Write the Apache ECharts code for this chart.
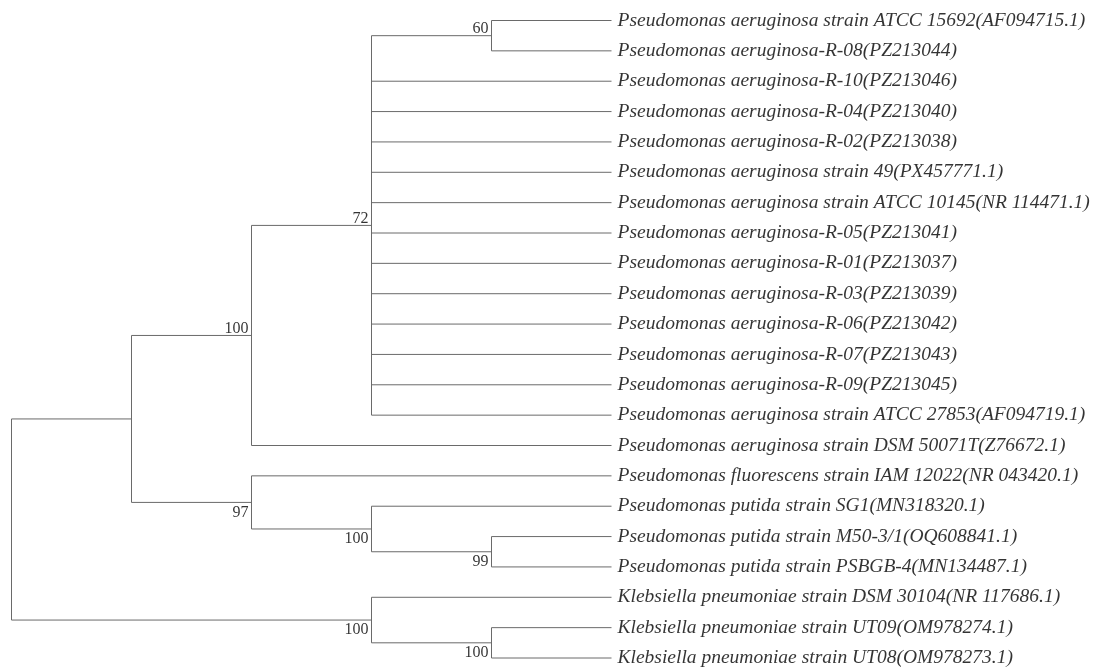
<!DOCTYPE html>
<html>
<head>
<meta charset="utf-8">
<script src="https://cdn.jsdelivr.net/npm/echarts@6/dist/echarts.min.js"></script>
<style>
html,body{margin:0;padding:0;background:#fff;}
#chart{width:1098px;height:669px;}
</style>
</head>
<body>
<div id="chart"></div>
<script>
// ---- Data ----
const leafNames = [
  'Pseudomonas aeruginosa strain ATCC 15692(AF094715.1)',
  'Pseudomonas aeruginosa-R-08(PZ213044)',
  'Pseudomonas aeruginosa-R-10(PZ213046)',
  'Pseudomonas aeruginosa-R-04(PZ213040)',
  'Pseudomonas aeruginosa-R-02(PZ213038)',
  'Pseudomonas aeruginosa strain 49(PX457771.1)',
  'Pseudomonas aeruginosa strain ATCC 10145(NR 114471.1)',
  'Pseudomonas aeruginosa-R-05(PZ213041)',
  'Pseudomonas aeruginosa-R-01(PZ213037)',
  'Pseudomonas aeruginosa-R-03(PZ213039)',
  'Pseudomonas aeruginosa-R-06(PZ213042)',
  'Pseudomonas aeruginosa-R-07(PZ213043)',
  'Pseudomonas aeruginosa-R-09(PZ213045)',
  'Pseudomonas aeruginosa strain ATCC 27853(AF094719.1)',
  'Pseudomonas aeruginosa strain DSM 50071T(Z76672.1)',
  'Pseudomonas fluorescens strain IAM 12022(NR 043420.1)',
  'Pseudomonas putida strain SG1(MN318320.1)',
  'Pseudomonas putida strain M50-3/1(OQ608841.1)',
  'Pseudomonas putida strain PSBGB-4(MN134487.1)',
  'Klebsiella pneumoniae strain DSM 30104(NR 117686.1)',
  'Klebsiella pneumoniae strain UT09(OM978274.1)',
  'Klebsiella pneumoniae strain UT08(OM978273.1)'
];
// internal nodes (numbers = leaf indices, strings = internal node ids)
const nodeIds = ['root', 'pseudo', 'aer', 'c72', 'c60', 'c97', 'put', 'c99', 'kleb', 'ut'];
const nodeChildren = [
  ['pseudo', 'kleb'],
  ['aer', 'c97'],
  ['c72', 14],
  ['c60', 2, 3, 4, 5, 6, 7, 8, 9, 10, 11, 12, 13],
  [0, 1],
  [15, 'put'],
  [16, 'c99'],
  [17, 18],
  [19, 'ut'],
  [20, 21]
];
const bootstrapValues = [null, null, 100, 72, 60, 97, 100, 99, 100, 100];

// ---- Layout (cladogram) ----
const childMap = {};
nodeIds.forEach((id, i) => { childMap[id] = nodeChildren[i]; });
function height(ref) {
  if (typeof ref === 'number') return 0;
  return 1 + Math.max(...childMap[ref].map(height));
}
const tipX = height('root');
const pos = {};
function layout(ref) {
  if (typeof ref === 'number') return { x: tipX, y: ref };
  if (pos[ref]) return pos[ref];
  const ch = childMap[ref].map(layout);
  const p = { x: tipX - height(ref), y: (ch[0].y + ch[ch.length - 1].y) / 2, ch: ch };
  pos[ref] = p;
  return p;
}
layout('root');

const edges = [];
const supportLabels = [];
nodeIds.forEach((id, i) => {
  const p = pos[id];
  const ch = p.ch;
  edges.push([p.x, ch[0].y, p.x, ch[ch.length - 1].y]);
  ch.forEach(c => edges.push([p.x, c.y, c.x, c.y]));
});
// label placement: above if first child of parent, else below
nodeIds.forEach((id, i) => {
  if (bootstrapValues[i] == null) return;
  let first = true;
  nodeIds.forEach((pid, j) => {
    const idx = nodeChildren[j].indexOf(id);
    if (idx > 0) first = false;
  });
  supportLabels.push({ value: [pos[id].x, pos[id].y, bootstrapValues[i]], above: first });
});
const leafData = leafNames.map((n, i) => [tipX, i, n]);

const chart = echarts.init(document.getElementById('chart'), null, { renderer: 'canvas' });
chart.setOption({
  backgroundColor: '#ffffff',
  animation: false,
  grid: { left: 11.5, top: 20.5, width: 600, height: 637.5 },
  xAxis: { type: 'value', min: 0, max: tipX, show: false },
  yAxis: { type: 'value', min: 0, max: leafNames.length - 1, inverse: true, show: false },
  series: [
    {
      type: 'custom',
      data: edges,
      renderItem: function (params, api) {
        const a = api.coord([api.value(0), api.value(1)]);
        const b = api.coord([api.value(2), api.value(3)]);
        return {
          type: 'line',
          shape: { x1: a[0], y1: a[1], x2: b[0], y2: b[1] },
          style: { stroke: '#6a6a6a', lineWidth: 1 }
        };
      },
      silent: true
    },
    {
      type: 'scatter',
      data: leafData,
      symbolSize: 0,
      silent: true,
      label: {
        show: true,
        position: 'right',
        distance: 6,
        formatter: p => p.value[2],
        fontFamily: 'Liberation Serif',
        fontStyle: 'italic',
        fontSize: 19.5,
        color: '#000'
      }
    },
    {
      type: 'scatter',
      data: supportLabels.map(s => ({
        value: s.value,
        label: {
          offset: s.above ? [0, -7] : [0, 10]
        }
      })),
      symbolSize: 0,
      silent: true,
      label: {
        show: true,
        position: 'left',
        distance: 3,
        formatter: p => p.value[2],
        fontFamily: 'Liberation Serif',
        fontSize: 16,
        color: '#000'
      }
    }
  ]
});
</script>
</body>
</html>
